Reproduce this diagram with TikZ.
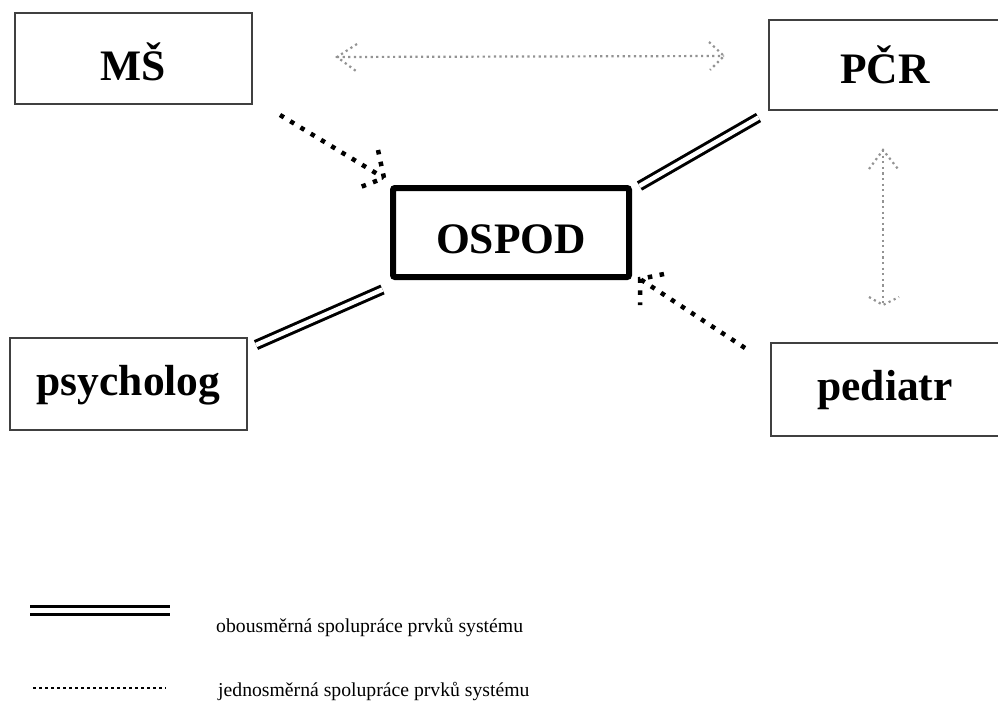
\documentclass[tikz,border=0pt]{standalone}
\usepackage{fontspec}
\setmainfont{Liberation Serif}
\begin{document}
\begin{tikzpicture}[x=1pt,y=-1pt,
  box/.style={draw=black!75, line width=1.2pt, fill=white, inner sep=0pt, text depth=0pt,
              font=\fontsize{43.5}{44}\selectfont\bfseries},
  mainbox/.style={box, draw=black, line width=6pt, rounded corners=2pt},
  dbl/.style={draw=black, line width=3pt, double=white, double distance=4.5pt},
  bdot/.style={draw=black, line width=4.5pt, dash pattern=on 4.5pt off 7.5pt},
  gdot/.style={draw=gray!85, line width=2.2pt, dash pattern=on 2.2pt off 3.4pt},
  legtext/.style={font=\fontsize{19.7}{20}\selectfont, anchor=base west, inner sep=0pt}]
\useasboundingbox (0,0) rectangle (998,704);

% boxes
\node[box, minimum width=237pt, minimum height=91pt, text height=43pt] (ms) at (133.5,58.5) {MŠ};
\node[box, minimum width=232pt, minimum height=90pt, text height=36pt] (pcr) at (885,65) {PČR};
\node[box, minimum width=237pt, minimum height=92pt, text height=22pt] (psy) at (128.5,384) {psycholog};
\node[box, minimum width=228pt, minimum height=93pt, text height=21pt] (ped) at (885,389.5) {pediatr};
\node[mainbox, minimum width=236pt, minimum height=89pt, text height=41pt] (ospod) at (511,232.5) {OSPOD};

% double lines (two-way cooperation)
\coordinate (psyE) at (256,345);
\coordinate (ospSW) at (382.5,289.5);
\coordinate (ospNE) at (639.5,186);
\coordinate (pcrW) at (758.5,117.5);
\draw[dbl] (psyE) -- (ospSW);
\draw[dbl] (ospNE) -- (pcrW);

% black dotted arrows (one-way cooperation)
\coordinate (msSE) at (280,115);
\coordinate (ospNW) at (384,178);
\draw[bdot] (msSE) -- (ospNW);
\draw[bdot] (378,150) -- (ospNW) -- (358,188);

\coordinate (pedNW) at (745,348);
\coordinate (ospSE) at (640,279);
\draw[bdot] (pedNW) -- (ospSE);
\draw[bdot] (664,274) -- (ospSE) -- (640,305);

% gray dotted double arrows
\coordinate (msE) at (337,57);
\coordinate (pcrWW) at (724,56);
\draw[gdot] (msE) -- (pcrWW);
\draw[gdot] (357,44) -- (msE) -- (356,71);
\draw[gdot] (709,42) -- (pcrWW) -- (710,70);

\coordinate (pcrS) at (883,150);
\coordinate (pedN) at (883,305);
\draw[gdot] (pcrS) -- (pedN);
\draw[gdot] (869,169) -- (pcrS) -- (898,169);
\draw[gdot] (869,297) -- (pedN) -- (899,297);

% legend
\coordinate (l1a) at (30,610);
\coordinate (l1b) at (170,610);
\draw[draw=black, line width=3pt, double=white, double distance=5pt] (l1a) -- (l1b);
\node[legtext] (t1) at (216,632) {obousměrná spolupráce prvků systému};
\coordinate (l2a) at (33,688);
\coordinate (l2b) at (166,688);
\draw[draw=black, line width=2.5pt, dash pattern=on 2.5pt off 3.5pt] (l2a) -- (l2b);
\node[legtext] (t2) at (218,696) {jednosměrná spolupráce prvků systému};
\end{tikzpicture}
\end{document}
